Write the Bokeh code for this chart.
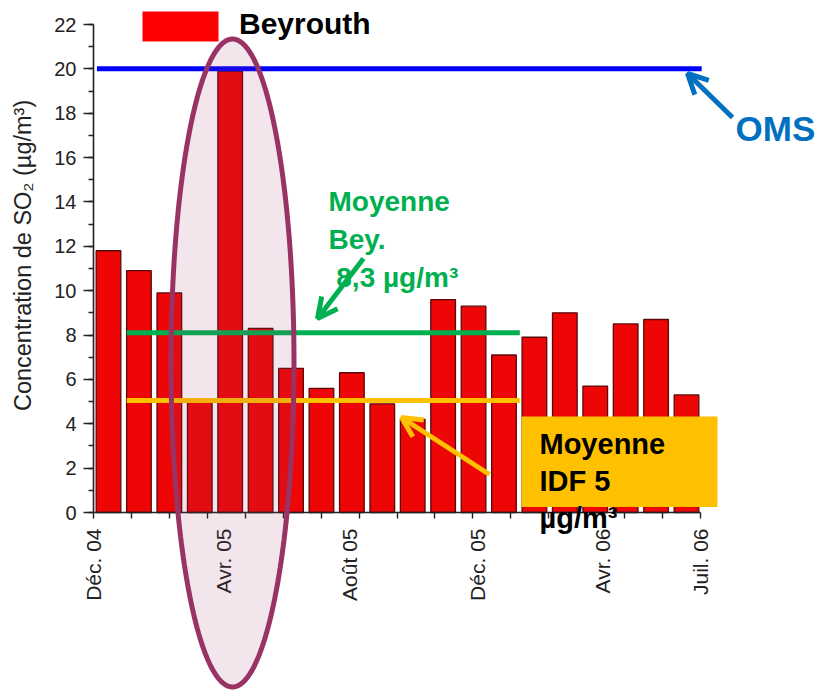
import math
import numpy as np
from bokeh.plotting import figure
from bokeh.models import (FixedTicker, SingleIntervalTicker, Label, Arrow, OpenHead,
                          BoxAnnotation, PolyAnnotation, Legend, LegendItem, ColumnDataSource)
from bokeh.embed import file_html
from bokeh.resources import INLINE

# ---------------- data ----------------
months = ["Déc. 04", "Janv. 05", "Févr. 05", "Mars 05", "Avr. 05", "Mai 05", "Juin 05",
          "Juil. 05", "Août 05", "Sept. 05", "Oct. 05", "Nov. 05", "Déc. 05", "Janv. 06",
          "Févr. 06", "Mars 06", "Avr. 06", "Mai 06", "Juin 06", "Juil. 06"]
so2_beyrouth = [11.8, 10.9, 9.9, 5.0, 19.9, 8.3, 6.5, 5.6, 6.3, 4.9,
                4.2, 9.6, 9.3, 7.1, 7.9, 9.0, 5.7, 8.5, 8.7, 5.3]
tick_labels = ["Déc. 04", "Avr. 05", "Août 05", "Déc. 05", "Avr. 06", "Juil. 06"]
tick_positions = [-0.49, 3.78, 7.92, 12.13, 16.24, 19.45]
ref_names = ["OMS", "Moyenne Bey.", "Moyenne IDF"]
ref_levels = [20.0, 8.1, 5.05]
ref_start = [-0.38, 0.6, 0.6]
ref_end = [19.5, 13.52, 13.52]
ref_colors = ["#0000FF", "#00B050", "#FFC000"]

FONT = "Liberation Sans"
X_LO, X_HI = -0.493, 19.46      # extent of the x axis
Y_LO, Y_HI = 0, 22              # extent of the y axis

# canvas geometry: axes drawn at fixed locations inside a frame that fills the canvas
W, H = 822, 690
AX_L, AX_R, AX_T, AX_B = 93, 700, 24, 512
KX = (AX_R - AX_L) / (X_HI - X_LO)
KY = (AX_B - AX_T) / (Y_HI - Y_LO)
X_START = X_LO - AX_L / KX
X_END = X_LO + (W - AX_L) / KX
Y_START = Y_LO - (H - AX_B) / KY
Y_END = Y_LO + AX_B / KY

def px2x(px):
    return X_START + px / KX

def py2y(py):
    return Y_END - py / KY

p = figure(width=W, height=H, x_range=(X_START, X_END), y_range=(Y_START, Y_END),
           output_backend="svg", toolbar_location=None,
           min_border_left=0, min_border_right=0, min_border_top=0, min_border_bottom=0)
p.outline_line_color = None
p.grid.visible = False
p.background_fill_color = "white"
p.border_fill_color = "white"

# bars
src = ColumnDataSource(dict(x=list(range(len(so2_beyrouth))), top=so2_beyrouth, month=months))
bars = p.vbar(x="x", top="top", bottom=0, width=0.81, source=src,
              fill_color="#EE0606", line_color="#5A0A0A", line_width=1.3)

# reference lines
rsrc = ColumnDataSource(dict(x0=ref_start, x1=ref_end, y=ref_levels, color=ref_colors))
p.segment(x0="x0", y0="y", x1="x1", y1="y", color="color", line_width=5, source=rsrc)

# axes (at fixed positions)
p.yaxis.fixed_location = X_LO
p.yaxis.bounds = (Y_LO, Y_HI)
p.xaxis.fixed_location = Y_LO
p.xaxis.bounds = (X_LO, X_HI)

p.yaxis.ticker = SingleIntervalTicker(interval=2, num_minor_ticks=2)
p.yaxis.axis_label = "\u00a0" * 4 + "Concentration de SO₂ (µg/m³)"
p.yaxis.axis_label_text_font = FONT
p.yaxis.axis_label_text_font_size = "23.5px"
p.yaxis.axis_label_text_font_style = "normal"
p.yaxis.axis_label_text_color = "#222222"
p.yaxis.axis_label_standoff = 15
p.yaxis.major_tick_out = 10
p.yaxis.major_tick_in = 0
p.yaxis.minor_tick_out = 5
p.yaxis.minor_tick_in = 0
p.yaxis.major_label_standoff = 7
p.yaxis.major_label_text_font = FONT
p.yaxis.major_label_text_font_size = "20px"
p.yaxis.major_label_text_color = "#222222"

minor = list(np.linspace(X_LO, X_HI - 1e-6, 17))
p.xaxis.ticker = FixedTicker(ticks=tick_positions, minor_ticks=minor)
p.xaxis.major_label_overrides = {pos: lab for pos, lab in zip(tick_positions, tick_labels)}
p.xaxis.major_label_orientation = math.pi / 2
p.xaxis.major_tick_line_color = None
p.xaxis.major_tick_out = 8
p.xaxis.major_tick_in = 0
p.xaxis.minor_tick_out = 6
p.xaxis.minor_tick_in = 0
p.xaxis.major_label_standoff = 8
p.xaxis.major_label_text_font = FONT
p.xaxis.major_label_text_font_size = "21px"
p.xaxis.major_label_text_color = "#222222"

for ax in (p.xaxis, p.yaxis):
    ax.axis_line_color = "#222222"
    ax.axis_line_width = 1.6
    ax.major_tick_line_width = 1.4
    ax.minor_tick_line_width = 1.4
    ax.minor_tick_line_color = "#222222"
p.yaxis.major_tick_line_color = "#222222"

# legend: red key box + bold label
p.add_layout(BoxAnnotation(left=px2x(142), right=px2x(218), top=py2y(11), bottom=py2y(41),
                           fill_color="#FF0000", fill_alpha=1, line_color=None))
leg_r = p.quad(left=[], right=[], top=[], bottom=[], fill_color="#FF0000", line_color=None)
legend = Legend(items=[LegendItem(label="Beyrouth", renderers=[leg_r])],
                location=(142, H - 41), glyph_width=76, glyph_height=30, label_height=30,
                label_standoff=21, padding=0, margin=0, spacing=0,
                label_text_font=FONT, label_text_font_size="30px", label_text_font_style="bold",
                label_text_color="black", border_line_color=None, background_fill_alpha=0)
p.add_layout(legend)

# highlight ellipse around April 2005
t = np.linspace(0, 2 * np.pi, 240)
ell_x = [px2x(232 + 61.5 * np.cos(a)) for a in t]
ell_y = [py2y(362.5 + 324 * np.sin(a)) for a in t]
p.add_layout(PolyAnnotation(xs=ell_x, ys=ell_y, fill_color="#993366", fill_alpha=0.13,
                            line_color="#993366", line_alpha=1, line_width=5))

# IDF box
p.add_layout(BoxAnnotation(left=px2x(521), right=px2x(717), top=py2y(416), bottom=py2y(506.5),
                           fill_color="#FFC000", fill_alpha=1, line_color=None))

# texts
p.add_layout(Label(x=px2x(539), y=py2y(427), text="Moyenne\nIDF 5\nµg/m³",
                   text_font=FONT, text_font_size="29px", text_font_style="bold",
                   text_color="black", text_align="left", text_baseline="top",
                   text_line_height=1.17))
p.add_layout(Label(x=px2x(328), y=py2y(185), text="Moyenne\nBey.\n\u00a08,3 µg/m³",
                   text_font=FONT, text_font_size="28px", text_font_style="bold",
                   text_color="#00B050", text_align="left", text_baseline="top",
                   text_line_height=1.24))
p.add_layout(Label(x=px2x(735), y=py2y(108), text="OMS",
                   text_font=FONT, text_font_size="35px", text_font_style="bold",
                   text_color="#0070C0", text_align="left", text_baseline="top"))

# arrows
p.add_layout(Arrow(x_start=px2x(363), y_start=py2y(258), x_end=px2x(317), y_end=py2y(318),
                   line_color="#00B050", line_width=5,
                   end=OpenHead(size=20, line_color="#00B050", line_width=5)))
p.add_layout(Arrow(x_start=px2x(489), y_start=py2y(474), x_end=px2x(401), y_end=py2y(417),
                   line_color="#FFC000", line_width=5,
                   end=OpenHead(size=20, line_color="#FFC000", line_width=5)))
p.add_layout(Arrow(x_start=px2x(732), y_start=py2y(117), x_end=px2x(687), y_end=py2y(73),
                   line_color="#0070C0", line_width=5,
                   end=OpenHead(size=20, line_color="#0070C0", line_width=5)))

open("out.html", "w").write(file_html(p, INLINE))
